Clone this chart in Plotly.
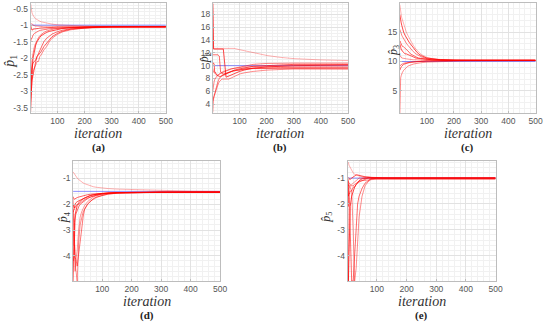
import plotly.graph_objects as go

# common iteration grid (x values of every run)
ITER = [1, 2, 4, 6, 8, 10, 15, 20, 25, 30, 35, 40, 50, 60, 70, 80, 100, 120, 150, 200, 250, 300, 400, 500]

# ---- panel (a): estimates of p1, true value -1
A_TRUE = -1.0
A_RUNS = [
    [-0.35, -0.45, -0.55, -0.62, -0.67, -0.71, -0.77, -0.81, -0.84, -0.86, -0.88, -0.9, -0.92, -0.94, -0.96, -0.97, -0.99, -1.0, -1.02, -1.03, -1.04, -1.04, -1.05, -1.05],
    [-3.62, -3.3, -2.8, -2.45, -2.2, -2.0, -1.75, -1.6, -1.5, -1.42, -1.37, -1.32, -1.26, -1.22, -1.19, -1.17, -1.13, -1.1, -1.08, -1.06, -1.05, -1.05, -1.05, -1.05],
    [-3.3, -3.1, -2.9, -2.7, -2.6, -2.5, -2.3, -2.1, -1.95, -1.85, -1.75, -1.65, -1.5, -1.4, -1.33, -1.27, -1.2, -1.15, -1.11, -1.08, -1.06, -1.05, -1.05, -1.05],
    [-2.7, -2.7, -2.65, -2.6, -2.55, -2.4, -2.3, -2.25, -2.1, -2.1, -1.95, -1.9, -1.75, -1.65, -1.5, -1.4, -1.28, -1.2, -1.14, -1.09, -1.07, -1.06, -1.05, -1.05],
    [-1.5, -1.45, -1.4, -1.4, -1.3, -1.3, -1.25, -1.22, -1.2, -1.18, -1.16, -1.15, -1.13, -1.12, -1.11, -1.1, -1.09, -1.08, -1.07, -1.06, -1.05, -1.05, -1.05, -1.05],
    [-1.0, -1.1, -1.1, -1.15, -1.15, -1.12, -1.12, -1.1, -1.1, -1.1, -1.09, -1.09, -1.08, -1.08, -1.07, -1.07, -1.06, -1.06, -1.06, -1.05, -1.05, -1.05, -1.05, -1.05],
    [-2.95, -2.6, -2.3, -2.1, -1.95, -1.85, -1.65, -1.55, -1.45, -1.38, -1.32, -1.28, -1.22, -1.18, -1.15, -1.13, -1.1, -1.08, -1.07, -1.06, -1.05, -1.05, -1.05, -1.05],
    [-0.95, -0.95, -0.95, -0.97, -0.97, -1.0, -1.02, -1.03, -1.03, -1.04, -1.04, -1.04, -1.05, -1.05, -1.05, -1.05, -1.05, -1.05, -1.05, -1.05, -1.05, -1.05, -1.05, -1.05],
    [-3.0, -2.8, -2.5, -2.3, -2.2, -2.15, -2.1, -2.05, -1.95, -1.9, -1.85, -1.8, -1.65, -1.55, -1.45, -1.35, -1.25, -1.18, -1.12, -1.08, -1.06, -1.05, -1.05, -1.05],
]
A_YTICKS = [-3.5, -3, -2.5, -2, -1.5, -1, -0.5]
A_YTEXT = ["-3.5", "-3", "-2.5", "-2", "-1.5", "-1", "-0.5"]

# ---- panel (b): estimates of p2, true value 10
B_TRUE = 10.0
B_RUNS = [
    [19.7, 12.7, 12.7, 12.7, 12.7, 12.7, 12.7, 12.7, 12.7, 12.7, 12.7, 12.7, 12.7, 12.7, 12.7, 12.7, 12.5, 12.3, 12.0, 11.6, 11.3, 11.1, 10.9, 10.8],
    [19.7, 12.6, 12.6, 12.6, 12.6, 12.6, 12.6, 12.6, 12.6, 12.6, 12.6, 12.6, 8.2, 8.4, 8.6, 8.8, 9.1, 9.35, 9.6, 9.8, 9.9, 10.0, 10.05, 10.1],
    [11.7, 11.7, 11.7, 11.7, 11.7, 11.7, 11.7, 11.7, 11.5, 9.0, 8.8, 8.7, 8.8, 9.0, 9.1, 9.2, 9.4, 9.5, 9.6, 9.7, 9.7, 9.7, 9.7, 9.7],
    [2.7, 4.0, 4.8, 5.2, 5.5, 5.7, 6.3, 7.0, 7.5, 7.8, 7.9, 7.9, 7.9, 7.9, 8.1, 8.3, 8.7, 8.9, 9.1, 9.3, 9.4, 9.5, 9.5, 9.5],
    [4.5, 4.8, 5.0, 5.3, 5.6, 6.0, 6.8, 7.5, 8.0, 8.3, 8.5, 8.6, 8.8, 9.0, 9.1, 9.2, 9.35, 9.45, 9.55, 9.55, 9.5, 9.5, 9.5, 9.5],
    [10.5, 10.5, 10.3, 10.3, 9.0, 9.0, 8.6, 8.4, 8.3, 8.3, 8.4, 8.5, 8.7, 8.9, 9.1, 9.3, 9.5, 9.7, 9.9, 10.0, 10.1, 10.2, 10.2, 10.2],
    [6.0, 6.5, 7.0, 7.5, 7.8, 8.0, 8.3, 8.5, 8.7, 8.8, 8.9, 9.0, 9.2, 9.35, 9.5, 9.6, 9.8, 10.0, 10.2, 10.35, 10.4, 10.4, 10.4, 10.4],
    [9.5, 9.5, 9.0, 9.0, 8.8, 8.8, 8.5, 8.5, 8.7, 8.9, 9.0, 9.1, 9.3, 9.4, 9.5, 9.6, 9.7, 9.8, 9.85, 9.9, 9.9, 9.9, 9.9, 9.9],
]
B_YTICKS = [4, 6, 8, 10, 12, 14, 16, 18]
B_YTEXT = ["4", "6", "8", "10", "12", "14", "16", "18"]

# ---- panel (c): estimates of p3, true value 10
C_TRUE = 10.0
C_RUNS = [
    [19.7, 19.0, 18.5, 18.0, 17.5, 17.2, 16.3, 15.5, 15.0, 14.5, 14.0, 13.6, 12.8, 12.1, 11.6, 11.2, 10.7, 10.5, 10.35, 10.25, 10.2, 10.2, 10.2, 10.2],
    [18.0, 17.5, 17.0, 16.6, 16.2, 15.8, 15.0, 14.5, 14.0, 13.7, 13.3, 13.0, 12.3, 11.8, 11.3, 11.0, 10.6, 10.45, 10.3, 10.2, 10.2, 10.2, 10.2, 10.2],
    [13.5, 13.5, 13.2, 13.0, 12.8, 12.6, 12.5, 12.3, 12.0, 11.8, 11.6, 11.3, 11.0, 10.8, 10.6, 10.5, 10.4, 10.3, 10.25, 10.2, 10.2, 10.2, 10.2, 10.2],
    [1.2, 6.5, 7.2, 7.6, 7.9, 8.1, 8.5, 8.8, 9.0, 9.2, 9.3, 9.4, 9.55, 9.65, 9.75, 9.8, 9.9, 9.95, 10.0, 10.05, 10.1, 10.1, 10.15, 10.15],
    [9.2, 9.3, 9.4, 9.5, 9.5, 9.6, 9.7, 9.75, 9.8, 9.85, 9.9, 9.9, 9.95, 10.0, 10.0, 10.05, 10.1, 10.1, 10.15, 10.2, 10.2, 10.2, 10.2, 10.2],
    [13.0, 12.5, 12.5, 12.0, 12.0, 11.8, 11.5, 11.3, 11.3, 11.2, 11.0, 10.9, 10.7, 10.6, 10.5, 10.45, 10.35, 10.3, 10.25, 10.2, 10.2, 10.2, 10.2, 10.2],
    [15.5, 15.3, 15.0, 14.7, 14.5, 14.3, 13.8, 13.4, 13.1, 12.8, 12.5, 12.2, 11.7, 11.3, 11.0, 10.8, 10.5, 10.4, 10.3, 10.2, 10.2, 10.2, 10.2, 10.2],
    [11.0, 11.0, 10.8, 10.8, 10.6, 10.6, 10.5, 10.5, 10.45, 10.4, 10.4, 10.35, 10.3, 10.3, 10.25, 10.25, 10.2, 10.2, 10.2, 10.2, 10.2, 10.2, 10.2, 10.2],
    [8.5, 8.7, 8.9, 9.1, 9.2, 9.3, 9.5, 9.6, 9.7, 9.75, 9.8, 9.85, 9.9, 9.95, 10.0, 10.05, 10.1, 10.1, 10.15, 10.2, 10.2, 10.2, 10.2, 10.2],
]
C_YTICKS = [5, 10, 15]
C_YTEXT = ["5", "10", "15"]

# ---- panel (d): estimates of p4, true value -1.5
D_TRUE = -1.5
D_RUNS = [
    [-0.74, -0.76, -0.8, -0.84, -0.88, -0.92, -0.98, -1.04, -1.09, -1.13, -1.17, -1.2, -1.25, -1.29, -1.32, -1.34, -1.37, -1.39, -1.41, -1.43, -1.45, -1.47, -1.49, -1.5],
    [-4.98, -4.2, -3.2, -2.7, -2.4, -2.25, -2.05, -1.95, -1.88, -1.83, -1.79, -1.76, -1.7, -1.66, -1.63, -1.61, -1.58, -1.56, -1.55, -1.54, -1.53, -1.53, -1.53, -1.53],
    [-4.2, -4.2, -4.0, -3.0, -2.6, -2.4, -2.2, -2.1, -2.0, -1.95, -1.9, -1.85, -1.78, -1.72, -1.68, -1.65, -1.6, -1.57, -1.55, -1.54, -1.53, -1.53, -1.53, -1.53],
    [-2.2, -2.5, -3.0, -3.5, -4.0, -4.5, -4.98, -3.5, -2.8, -2.5, -2.3, -2.2, -2.0, -1.88, -1.8, -1.74, -1.66, -1.61, -1.57, -1.55, -1.54, -1.53, -1.53, -1.53],
    [-3.0, -3.0, -3.6, -3.6, -4.1, -4.1, -4.4, -4.0, -3.6, -3.0, -2.5, -2.2, -2.0, -1.87, -1.78, -1.72, -1.65, -1.6, -1.57, -1.55, -1.54, -1.53, -1.53, -1.53],
    [-2.0, -2.0, -2.1, -2.15, -2.0, -1.95, -1.9, -1.87, -1.84, -1.81, -1.78, -1.75, -1.7, -1.66, -1.63, -1.61, -1.58, -1.56, -1.55, -1.54, -1.53, -1.53, -1.53, -1.53],
    [-2.3, -2.3, -2.2, -2.2, -2.1, -2.1, -2.0, -2.0, -1.95, -1.9, -1.85, -1.82, -1.76, -1.71, -1.67, -1.64, -1.6, -1.57, -1.55, -1.54, -1.53, -1.53, -1.53, -1.53],
    [-1.8, -1.9, -3.5, -4.6, -4.6, -4.2, -3.8, -3.0, -2.5, -2.3, -2.15, -2.05, -1.9, -1.8, -1.72, -1.67, -1.61, -1.58, -1.56, -1.55, -1.54, -1.53, -1.53, -1.53],
    [-1.7, -1.75, -1.8, -1.8, -1.78, -1.76, -1.74, -1.72, -1.7, -1.68, -1.66, -1.65, -1.63, -1.61, -1.6, -1.59, -1.57, -1.56, -1.55, -1.54, -1.53, -1.53, -1.53, -1.53],
]
D_YTICKS = [-4, -3, -2, -1]
D_YTEXT = ["-4", "-3", "-2", "-1"]

# ---- panel (e): estimates of p5, true value -1
E_TRUE = -1.0
E_RUNS = [
    [-0.4, -0.4, -0.4, -0.5, -0.55, -0.6, -0.7, -0.8, -0.85, -0.88, -0.9, -0.92, -0.95, -0.97, -0.98, -0.99, -1.0, -1.0, -1.0, -1.0, -1.0, -1.0, -1.0, -1.0],
    [-1.0, -4.98, -4.98, -4.0, -3.0, -2.1, -1.7, -1.5, -1.35, -1.25, -1.15, -1.1, -1.03, -1.0, -1.0, -1.0, -1.0, -1.0, -1.0, -1.0, -1.0, -1.0, -1.0, -1.0],
    [-1.0, -1.0, -1.2, -1.5, -2.0, -3.0, -4.98, -4.98, -4.0, -3.0, -2.0, -1.7, -1.4, -1.2, -1.1, -1.02, -1.0, -1.0, -1.0, -1.0, -1.0, -1.0, -1.0, -1.0],
    [-1.3, -1.3, -1.3, -1.25, -1.3, -1.4, -1.5, -3.0, -4.98, -4.5, -3.5, -2.5, -1.7, -1.3, -1.15, -1.05, -1.0, -1.0, -1.0, -1.0, -1.0, -1.0, -1.0, -1.0],
    [-1.0, -1.7, -1.7, -1.6, -1.6, -1.5, -1.5, -1.35, -1.35, -1.25, -1.2, -1.15, -1.1, -1.05, -1.0, -1.0, -1.0, -1.0, -1.0, -1.0, -1.0, -1.0, -1.0, -1.0],
    [-1.0, -1.0, -1.0, -1.0, -1.05, -1.05, -1.0, -0.95, -0.9, -0.88, -0.88, -0.9, -0.92, -0.95, -0.97, -0.98, -0.99, -1.0, -1.0, -1.0, -1.0, -1.0, -1.0, -1.0],
    [-1.1, -1.1, -1.15, -1.2, -1.2, -1.25, -1.3, -1.3, -1.25, -1.2, -1.15, -1.12, -1.1, -1.08, -1.07, -1.06, -1.05, -1.05, -1.05, -1.05, -1.05, -1.05, -1.05, -1.05],
    [-1.0, -2.1, -2.1, -1.4, -1.3, -1.3, -1.25, -1.2, -1.15, -1.1, -1.05, -1.0, -1.0, -0.98, -0.95, -0.97, -0.98, -0.99, -1.0, -1.0, -1.0, -1.0, -1.0, -1.0],
]
E_YTICKS = [-4, -3, -2, -1]
E_YTEXT = ["-4", "-3", "-2", "-1"]

X_TICKS = [100, 200, 300, 400, 500]
X_TEXT = ["100", "200", "300", "400", "500"]

ALPHAS = [0.35, 0.8, 0.65, 0.5, 0.6, 0.75, 0.55, 0.45, 0.7]

W, H = 550, 326
panels = [
    # runs, true, yticks, ytext, yrange, (left,right,top,bottom px), sub, minor, label, ylabel pos px
    (A_RUNS, A_TRUE, A_YTICKS, A_YTEXT, [-3.66, -0.33], (31, 168, 3, 113), "1", 0.1, "(a)", (10, 61)),
    (B_RUNS, B_TRUE, B_YTICKS, B_YTEXT, [2.6, 19.8], (215.5, 352.5, 3, 113), "2", 0.5, "(b)", (208, 58)),
    (C_RUNS, C_TRUE, C_YTICKS, C_YTEXT, [1.2, 20.0], (405, 542.5, 3, 113), "3", 1, "(c)", (399, 50)),
    (D_RUNS, D_TRUE, D_YTICKS, D_YTEXT, [-4.98, -0.32], (74, 223, 161, 281), "4", 0.2, "(d)", (65, 217)),
    (E_RUNS, E_TRUE, E_YTICKS, E_YTEXT, [-4.98, -0.34], (352, 502, 161, 281), "5", 0.2, "(e)", (331, 217)),
]

fig = go.Figure()
tick_font = dict(family="Liberation Sans", size=8.5, color="#555555")
title_font = dict(family="Liberation Serif", size=14, color="#333333")
ylab_font = dict(family="Liberation Serif", size=12, color="#333333")

for i, (runs, true_v, yt, ytx, yr, (l, r, t, b), sub, ymin, lab, (px, py)) in enumerate(panels):
    ax = "" if i == 0 else str(i + 1)
    xa, ya = "x" + ax, "y" + ax
    fig.add_trace(go.Scatter(x=[ITER[0], ITER[-1]], y=[true_v, true_v], mode="lines",
                             line=dict(color="rgba(90,90,255,0.75)", width=0.9),
                             xaxis=xa, yaxis=ya, showlegend=False, hoverinfo="skip"))
    for k, run in enumerate(runs):
        fig.add_trace(go.Scatter(x=ITER, y=run, mode="lines",
                                 line=dict(color=f"rgba(255,0,0,{ALPHAS[k % len(ALPHAS)]})", width=0.9),
                                 xaxis=xa, yaxis=ya, showlegend=False, hoverinfo="skip"))
    common = dict(showline=True, linecolor="#bdbdbd", linewidth=0.8, mirror=True,
                  showgrid=True, gridcolor="#e2e2e2", gridwidth=0.6,
                  zeroline=False, ticks="inside", ticklen=2, tickcolor="#bdbdbd",
                  tickfont=tick_font, tickmode="array")
    fig.layout["xaxis" + ax] = dict(
        common, domain=[l / W, r / W], range=[1, 500], anchor=ya,
        tickvals=X_TICKS, ticktext=X_TEXT,
        minor=dict(tickmode="linear", tick0=0, dtick=20, showgrid=True,
                   gridcolor="#f1f1f1", gridwidth=0.5, ticks=""))
    fig.layout["yaxis" + ax] = dict(
        common, domain=[1 - b / H, 1 - t / H], range=yr, anchor=xa,
        tickvals=yt, ticktext=ytx,
        minor=dict(tickmode="linear", tick0=0, dtick=ymin, showgrid=True,
                   gridcolor="#f1f1f1", gridwidth=0.5, ticks=""))
    cx = (l + r) / 2
    fig.add_annotation(text="<i>iteration</i>", x=cx / W, y=1 - (b + 20) / H,
                       xref="paper", yref="paper", showarrow=False, font=title_font,
                       xanchor="center", yanchor="middle")
    fig.add_annotation(text=f"<i>p&#770;</i><sub>{sub}</sub>", x=px / W, y=1 - py / H,
                       xref="paper", yref="paper", showarrow=False,
                       font=ylab_font if i else title_font,
                       textangle=-90, xanchor="center", yanchor="middle")
    fig.add_annotation(text=f"<b>{lab}</b>", x=cx / W, y=1 - (b + 34) / H,
                       xref="paper", yref="paper", showarrow=False,
                       font=dict(family="Liberation Serif", size=11, color="#222222"),
                       xanchor="center", yanchor="middle")

fig.update_layout(width=W, height=H, margin=dict(l=0, r=0, t=0, b=0),
                  paper_bgcolor="white", plot_bgcolor="white")
fig.write_html("out.html", config={"displayModeBar": False},
               post_script="document.body.style.margin='0';document.body.style.overflow='hidden';")
